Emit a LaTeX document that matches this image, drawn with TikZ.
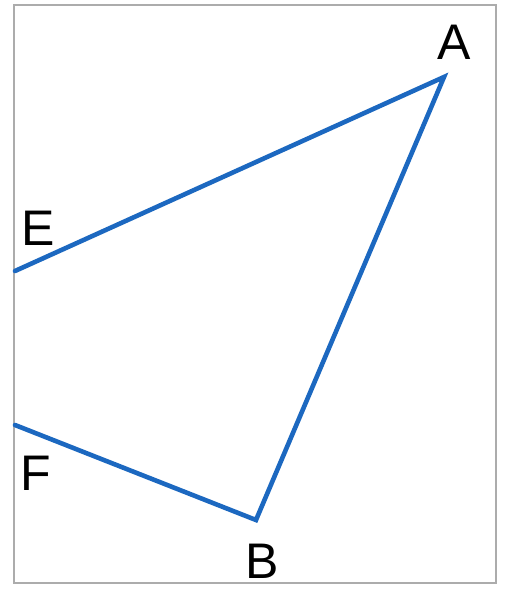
\documentclass[tikz,border=0pt]{standalone}
\usepackage{fontspec}
\setmainfont{Liberation Sans}
\definecolor{lineblue}{RGB}{28,104,192}
\begin{document}
\begin{tikzpicture}[x=1pt,y=-1pt,
  seg/.style={draw=lineblue,line width=4.6pt,line join=miter,line cap=round},
  lbl/.style={font=\fontsize{50}{50}\selectfont,text=black,inner sep=0pt}]
\useasboundingbox (0,0) rectangle (508,594);
\fill[white] (0,0) rectangle (508,594);
\draw[gray!65,line width=1.5pt] (14,5) rectangle (496,583);
\coordinate (A) at (444,77);
\coordinate (B) at (256,520);
\coordinate (E) at (15,271);
\coordinate (F) at (15,425);
\draw[seg] (E) -- (A) -- (B) -- (F);
\node[lbl] (la) at (454,42) {A};
\node[lbl] (lb) at (262,561) {B};
\node[lbl] (le) at (38,228) {E};
\node[lbl] (lf) at (36,473) {F};
\end{tikzpicture}
\end{document}
